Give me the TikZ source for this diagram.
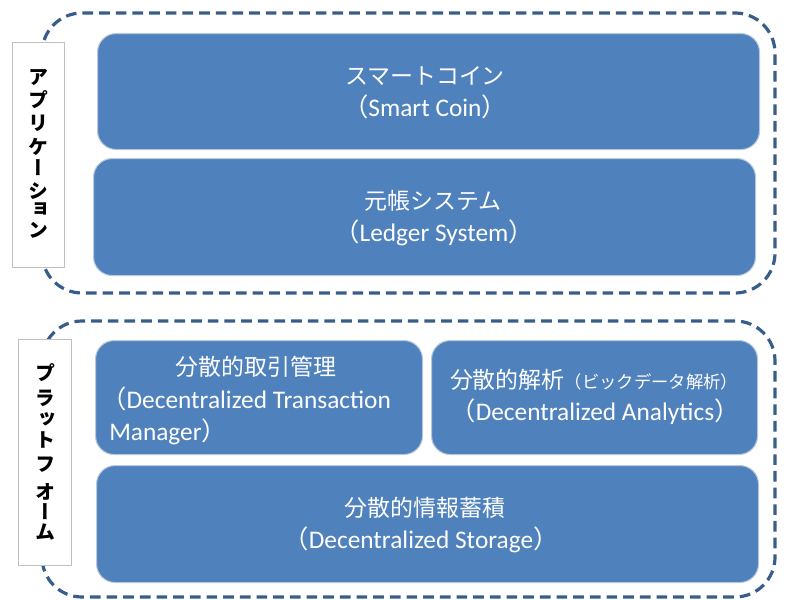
\documentclass[tikz,border=0pt]{standalone}
\usepackage{fontspec}
\setmainfont{Carlito}
\newfontfamily\cjk{Noto Sans CJK JP}
\newfontfamily\cjkv[RawFeature=+vert]{Noto Sans CJK JP}
\usetikzlibrary{positioning}
\definecolor{boxblue}{HTML}{4F81BD}
\definecolor{boxedge}{HTML}{B9C9DD}
\definecolor{dashblue}{HTML}{385D8A}
\definecolor{lblgray}{HTML}{BFBFBF}
\tikzset{
  group/.style={draw=dashblue, line width=2.4pt, dash pattern=on 8pt off 4.5pt, rounded corners=30pt},
  blk/.style={fill=boxblue, draw=boxedge, line width=0.8pt, rounded corners=14pt, anchor=north west, inner sep=0pt},
  lbl/.style={fill=white, draw=lblgray, line width=1.1pt, anchor=north west, inner sep=0pt},
  txt/.style={text=white, font=\fontsize{19}{22}\selectfont, inner sep=0pt, text height=13pt, text depth=3pt},
  jt/.style={font=\cjk\fontsize{17.2}{22}\selectfont},
  vch/.style={font=\cjkv\bfseries\fontsize{15}{17}\selectfont, inner sep=0pt, text=black}
}
\begin{document}
\begin{tikzpicture}[x=0.75pt,y=-0.75pt]
\useasboundingbox (0,0) rectangle (787,599);
% dashed groups
\draw[group] (42,13) rectangle (775,293);
\draw[group] (42,321) rectangle (775,597);
% label boxes
\node[lbl, minimum width=52*0.75pt, minimum height=225*0.75pt] (L1) at (12,42) {};
\node[lbl, minimum width=53*0.75pt, minimum height=226*0.75pt] (L2) at (18,339) {};
% blue boxes
\node[blk, minimum width=662*0.75pt, minimum height=116*0.75pt] (A) at (97,33) {};
\node[blk, minimum width=662*0.75pt, minimum height=117*0.75pt] (B) at (93,158) {};
\node[blk, minimum width=327*0.75pt, minimum height=114*0.75pt] (C) at (95,340) {};
\node[blk, minimum width=326*0.75pt, minimum height=114*0.75pt] (D) at (431,340) {};
\node[blk, minimum width=662*0.75pt, minimum height=117*0.75pt] (E) at (96,465) {};
% texts
\node[txt, jt] (a1) at (425,78) {スマートコイン};
\node[txt] (a2) at (425,110) {{\cjk （}Smart Coin{\cjk ）}};
\node[txt, jt] (b1) at (433,203) {元帳システム};
\node[txt] (b2) at (434,235) {{\cjk （}Ledger System{\cjk ）}};
\node[txt, jt] (c1) at (256,369) {分散的取引管理};
\node[txt, anchor=west] (c2) at (101,402) {{\cjk （}Decentralized Transaction};
\node[txt, anchor=west] (c3) at (109,434) {Manager{\cjk ）}};
\node[txt, jt] (d1) at (594,382) {分散的解析{\fontsize{13}{16}\selectfont （ビックデータ解析）}};
\node[txt] (d2) at (595,414) {{\cjk （}Decentralized Analytics{\cjk ）}};
\node[txt, jt] (e1) at (425,510) {分散的情報蓄積};
\node[txt] (e2) at (421,542) {{\cjk （}Decentralized Storage{\cjk ）}};
% vertical labels
\node[vch] (v11) at (38,78) {ア};
\node[vch] (v12) at (38,100) {プ};
\node[vch] (v13) at (38,123) {リ};
\node[vch] (v14) at (38,147) {ケ};
\node[vch] (v15) at (38,168) {ー};
\node[vch] (v16) at (38,191) {シ};
\node[vch] (v17) at (38,210) {ョ};
\node[vch] (v18) at (38,230) {ン};
\node[vch] (v21) at (45,373) {プ};
\node[vch] (v22) at (45,398) {ラ};
\node[vch] (v23) at (45,420) {ッ};
\node[vch] (v24) at (45,440) {ト};
\node[vch] (v25) at (45,465) {フ};
\node[vch] (v26) at (45,492) {オ};
\node[vch] (v27) at (45,512) {ー};
\node[vch] (v28) at (45,532) {ム};
\end{tikzpicture}
\end{document}
